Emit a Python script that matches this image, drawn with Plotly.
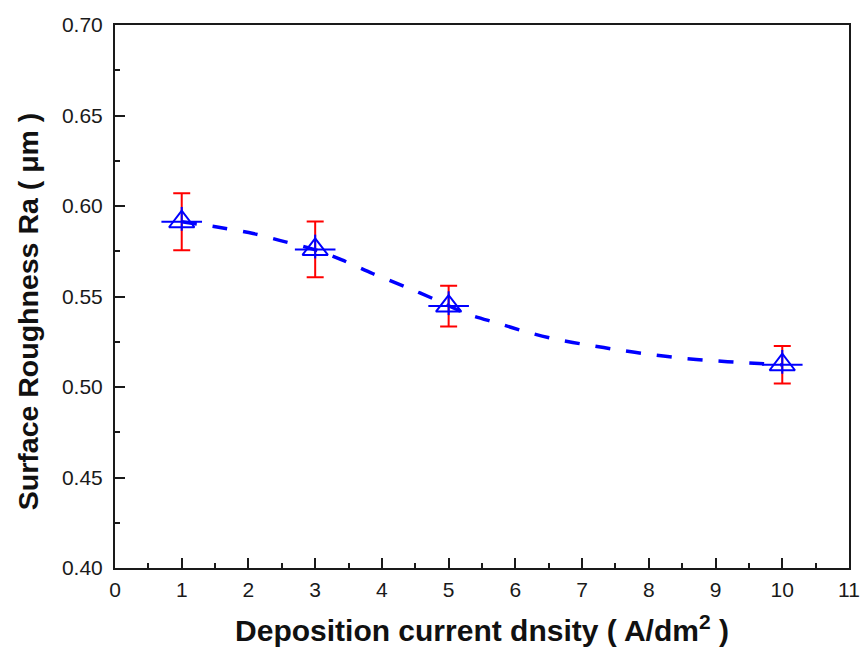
import plotly.graph_objects as go

# measured data points
current_density = [1, 3, 5, 10]
roughness = [0.5913, 0.5760, 0.5447, 0.5123]
roughness_err = [0.0157, 0.0154, 0.0113, 0.0103]

# fitted (dashed) curve
fit_x = [1.0, 1.53, 2.07, 2.48, 3.0, 3.40, 3.86, 4.34, 4.80, 5.26, 5.72, 6.17,
         6.63, 7.09, 7.56, 8.02, 8.48, 8.94, 9.40, 10.0]
fit_y = [0.5913, 0.5884, 0.5848, 0.5809, 0.5758, 0.5702, 0.5627, 0.5555, 0.5483,
         0.5406, 0.5354, 0.5304, 0.5262, 0.5232, 0.5204, 0.5180, 0.5160, 0.5146,
         0.5135, 0.5123]

x_ticks = list(range(0, 12))
y_ticks = [0.40, 0.45, 0.50, 0.55, 0.60, 0.65, 0.70]

fig = go.Figure()

fig.add_trace(go.Scatter(
    x=fit_x, y=fit_y, mode="lines",
    line=dict(color="#0000ff", width=3.5, dash="15px,16px", shape="spline", smoothing=0.8),
    showlegend=False, hoverinfo="skip"))

fig.add_trace(go.Scatter(
    x=current_density, y=roughness, mode="markers",
    marker=dict(size=1, color="rgba(0,0,0,0)"),
    error_y=dict(type="data", array=roughness_err, visible=True,
                 color="#ff0000", thickness=2, width=8.5),
    showlegend=False))

fig.add_trace(go.Scatter(
    x=current_density, y=roughness, mode="markers",
    marker=dict(symbol="triangle-up-open", size=22, color="#0000ff",
                line=dict(width=2, color="#0000ff")),
    showlegend=False))
fig.add_trace(go.Scatter(
    x=current_density, y=roughness, mode="markers",
    marker=dict(symbol="line-ew-open", size=29, color="#0000ff",
                line=dict(width=2, color="#0000ff")),
    showlegend=False))
fig.add_trace(go.Scatter(
    x=current_density, y=[r + 0.0016 for r in roughness], mode="markers",
    marker=dict(symbol="line-ns-open", size=17, color="#0000ff",
                line=dict(width=2, color="#0000ff")),
    showlegend=False))

font_family = "Liberation Sans, Arial, sans-serif"
axis_col = "#1a1a1a"

fig.add_annotation(
    text="<b>Surface Roughness Ra ( μm )</b>",
    xref="paper", yref="paper", x=-0.1185, y=0.473,
    xanchor="center", yanchor="middle", textangle=-90, showarrow=False,
    font=dict(size=28.5, family=font_family, color="#111111"))

fig.update_layout(
    width=862, height=648,
    margin=dict(l=115, r=13, t=25, b=80),
    plot_bgcolor="white", paper_bgcolor="white",
    font=dict(family=font_family, color=axis_col),
    xaxis=dict(
        range=[0, 11], tickvals=x_ticks, ticktext=[str(v) for v in x_ticks],
        automargin=False,
        showgrid=False, zeroline=False,
        showline=True, linecolor=axis_col, linewidth=2, mirror=True,
        ticks="inside", ticklen=10, tickwidth=2, tickcolor=axis_col,
        minor=dict(ticks="inside", ticklen=5, tickwidth=2, tickcolor=axis_col, dtick=0.5, showgrid=False),
        tickfont=dict(size=21, family=font_family, color=axis_col),
        ticklabelstandoff=2,
        title=dict(text="<b>Deposition current dnsity ( A/dm<sup>2</sup> )</b>",
                   font=dict(size=30, family=font_family, color="#111111"), standoff=20),
    ),
    yaxis=dict(
        range=[0.40, 0.70], tickvals=y_ticks, ticktext=["%.2f" % v for v in y_ticks],
        automargin=False,
        showgrid=False, zeroline=False,
        showline=True, linecolor=axis_col, linewidth=2, mirror=True,
        ticks="inside", ticklen=10, tickwidth=2, tickcolor=axis_col,
        minor=dict(ticks="inside", ticklen=5, tickwidth=2, tickcolor=axis_col, dtick=0.025, showgrid=False),
        tickfont=dict(size=21, family=font_family, color=axis_col),
        ticklabelstandoff=6,
    ),
)

fig.write_html("out.html")
